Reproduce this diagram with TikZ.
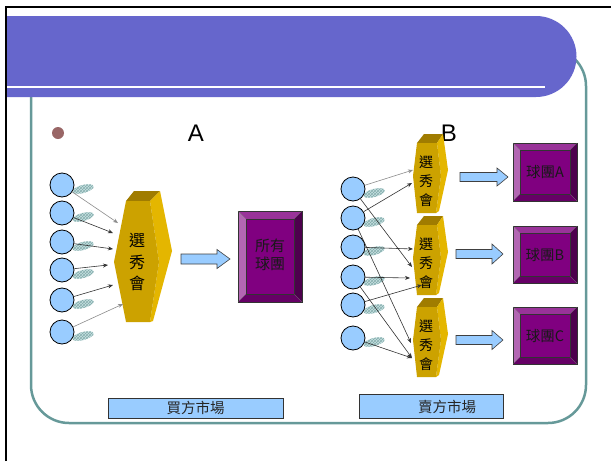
\documentclass[tikz,border=0pt]{standalone}
\usepackage{fontspec}
\setmainfont{Liberation Sans}
\newfontfamily\cjk{Noto Sans CJK TC}
\usetikzlibrary{arrows.meta,patterns}
\definecolor{banner}{RGB}{102,102,204}
\definecolor{frameteal}{RGB}{102,153,153}
\definecolor{lblue}{RGB}{153,204,255}
\definecolor{shadowc}{RGB}{200,226,226}
\definecolor{goldtop}{RGB}{160,124,0}
\definecolor{goldfront}{RGB}{204,162,0}
\definecolor{goldside}{RGB}{228,182,0}
\definecolor{pmid}{RGB}{128,0,128}
\definecolor{ptop}{RGB}{153,51,153}
\definecolor{pleft}{RGB}{179,102,179}
\definecolor{pright}{RGB}{77,0,77}
\definecolor{pbot}{RGB}{102,0,102}
\definecolor{dotc}{RGB}{153,102,102}
\tikzset{
  ball/.style={circle, draw=black, line width=0.8pt, fill=lblue, minimum size=24pt, inner sep=0pt},
  shadowell/.style={fill=shadowc, postaction={pattern=crosshatch, pattern color=frameteal!80}},
  feed/.style={-{Stealth[length=5pt,width=4pt]}, line width=0.6pt, draw=black!80},
  feedlight/.style={feed, draw=black!45},
  hextext/.style={font=\cjk\fontsize{16}{21.5}\selectfont, align=center, inner sep=0pt},
  hextextB/.style={font=\cjk\fontsize{14}{19}\selectfont, align=center, inner sep=0pt},
  labeltext/.style={font=\cjk\fontsize{14.5}{14.5}\selectfont, inner sep=0pt, text=black!85},
  bigletter/.style={font=\fontsize{24}{24}\selectfont, inner sep=0pt},
  blockarrowstyle/.style={fill=lblue, draw=black!75, line width=0.6pt, line join=miter},
}
% bevelled box: x1 y1 x2 y2 bevel name text
\newcommand\bevbox[7]{%
  \fill[pmid] (#1+#5,#2+#5) rectangle (#3-#5,#4-#5);
  \fill[ptop] (#1,#2) -- (#3,#2) -- (#3-#5,#2+#5) -- (#1+#5,#2+#5) -- cycle;
  \fill[pleft] (#1,#2) -- (#1+#5,#2+#5) -- (#1+#5,#4-#5) -- (#1,#4) -- cycle;
  \fill[pright] (#3,#2) -- (#3,#4) -- (#3-#5,#4-#5) -- (#3-#5,#2+#5) -- cycle;
  \fill[pbot] (#1,#4) -- (#1+#5,#4-#5) -- (#3-#5,#4-#5) -- (#3,#4) -- cycle;
  \draw[black!80, line width=0.5pt] (#1,#2) rectangle (#3,#4);
  \draw[black!80, line width=0.5pt] (#1+#5,#2+#5) rectangle (#3-#5,#4-#5);
  \draw[black!60, line width=0.3pt] (#1,#2) -- (#1+#5,#2+#5) (#3,#2) -- (#3-#5,#2+#5)
     (#1,#4) -- (#1+#5,#4-#5) (#3,#4) -- (#3-#5,#4-#5);
  \node[inner sep=0pt] (#6) at ({(#1+#3)/2},{(#2+#4)/2}) {#7};
}
% block arrow: tailx cy tipx shafthalf headhalf headlen
\newcommand\blockarrow[6]{%
  \draw[blockarrowstyle] (#1,#2-#4) -- (#3-#6,#2-#4) -- (#3-#6,#2-#5) -- (#3,#2)
    -- (#3-#6,#2+#5) -- (#3-#6,#2+#4) -- (#1,#2+#4) -- cycle;
}
% small hexagonal prism, shifted down by #2, text node #1
\newcommand\hexB[2]{%
  \begin{scope}[shift={(0,#2)}]
    \fill[goldtop] (417,143) -- (424,134) -- (443,134) -- (437,143) -- cycle;
    \fill[goldside] (437,143) -- (443,134) -- (448,170) -- (439,211) -- (436,213) -- (441,176) -- cycle;
    \fill[goldfront] (417,143) -- (437,143) -- (441,176) -- (436,213) -- (417,213) -- (413,176) -- cycle;
    \node[hextextB] (#1) at (426,181) {選\\秀\\會};
  \end{scope}
}
\begin{document}
\begin{tikzpicture}[x=1pt,y=-1pt]
\useasboundingbox (0,0) rectangle (611,461);
\fill[white] (0,0) rectangle (611,461);
% teal rounded frame
\draw[frameteal, line width=2.5pt, rounded corners=38pt] (31,48) rectangle (586,423);
% banner
\fill[banner] (6,16) -- (536,16) arc[start angle=-90, end angle=90, radius=40.5] -- (6,97) -- cycle;
\draw[white, line width=2pt] (6,87) -- (545,87);
% black slide frame
\draw[black, line width=2pt] (6,461) -- (6,7) -- (611,7);
% bullet and letters
\fill[dotc] (58,133) circle (6);
\node[bigletter] (labA) at (196,133) {A};

% ---------- part A ----------
\foreach \yy [count=\i] in {185,213,242,270,300,332} {
  \path[shadowell, rotate around={15:(83,\yy+4)}] (83,\yy+4) ellipse [x radius=11, y radius=4];
  \node[ball] (a\i) at (62,\yy) {};
}
% hexagon prism A
\fill[goldtop] (126,201) -- (134,191) -- (160,191) -- (150,201) -- cycle;
\fill[goldside] (150,201) -- (160,191) -- (172,251) -- (153,321) -- (150,322) -- (159,262) -- cycle;
\fill[goldfront] (126,201) -- (150,201) -- (159,262) -- (150,322) -- (126,322) -- (114,262) -- cycle;
\node[hextext] (hexA) at (137,262) {選\\秀\\會};
\coordinate (tA1) at (118,223);
\coordinate (tA2) at (113,233);
\coordinate (tA3) at (113,249);
\coordinate (tA4) at (108,265);
\coordinate (tA5) at (113,285);
\coordinate (tA6) at (123,304);
\draw[feedlight] (a1) -- (tA1);
\draw[feed] (a2) -- (tA2);
\draw[feed] (a3) -- (tA3);
\draw[feed] (a4) -- (tA4);
\draw[feed] (a5) -- (tA5);
\draw[feedlight] (a6) -- (tA6);
\blockarrow{181}{259}{230}{5}{9.5}{13}
\bevbox{238}{211}{302}{302}{8}{allteams}{\cjk\fontsize{15}{19}\selectfont\color{black!90}\begin{tabular}{@{}c@{}}所有\\[-1pt]球團\end{tabular}}

% ---------- part B ----------
\node[bigletter] (labB) at (449,133) {B};
\hexB{hexB1}{0}
\hexB{hexB2}{82}
\hexB{hexB3}{164}
\foreach \yy [count=\i] in {189,218,247,277,305,338} {
  \path[shadowell, rotate around={15:(374,\yy+4)}] (374,\yy+4) ellipse [x radius=11, y radius=4];
  \node[ball] (b\i) at (353,\yy) {};
}
\coordinate (u1) at (413,170);
\coordinate (u2) at (412,183);
\coordinate (v1) at (413,249);
\coordinate (v2) at (412,267);
\coordinate (v3) at (410,278);
\coordinate (v4) at (422,285);
\coordinate (w1) at (411,343);
\coordinate (w2) at (412,358);
\draw[feedlight] (b1) -- (u1);
\draw[feed] (b1) -- (v2);
\draw[feed] (b2) -- (u2);
\draw[feed] (b2) -- (w1);
\draw[feed] (b3) -- (v1);
\draw[feed] (b4) -- (v3);
\draw[feed] (b4) -- (w2);
\draw[feed] (b5) -- (v4);
\draw[feed] (b6) -- (w2);
\blockarrow{460}{177}{508}{4.5}{9}{11}
\blockarrow{456}{254}{503}{4.5}{10}{11}
\blockarrow{456}{340}{503}{4.5}{9.5}{11}
\bevbox{513}{143}{577}{201}{7}{teamA}{\cjk\fontsize{14.5}{14.5}\selectfont\color{black!90}球團A}
\bevbox{513}{226}{577}{283}{7}{teamB}{\cjk\fontsize{14.5}{14.5}\selectfont\color{black!90}球團B}
\bevbox{513}{307}{577}{364}{7}{teamC}{\cjk\fontsize{14.5}{14.5}\selectfont\color{black!90}球團C}

% ---------- bottom labels ----------
\node[draw=black!80, fill=lblue, line width=0.6pt, minimum width=175pt, minimum height=20pt, inner sep=0pt, labeltext] (buy) at (195.5,408) {買方市場};
\draw[draw=black!80, fill=lblue, line width=0.6pt] (359,394) rectangle (503,418);
\node[labeltext] (sell) at (447,407) {賣方市場};
\end{tikzpicture}
\end{document}
